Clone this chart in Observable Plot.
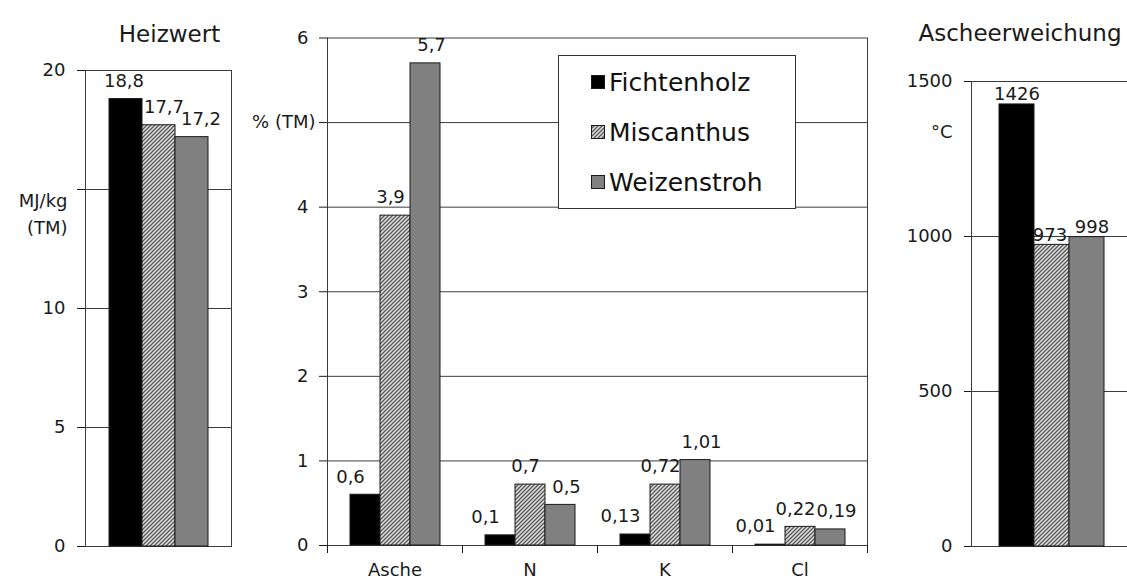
<!DOCTYPE html>
<html><head><meta charset="utf-8">
<script src="https://cdn.jsdelivr.net/npm/d3@7"></script>
<script src="https://cdn.jsdelivr.net/npm/@observablehq/plot@0.6"></script>
<style>
html,body{margin:0;padding:0;background:#fff;}
#chart{position:relative;width:1127px;height:580px;overflow:hidden;background:#fff;font-family:"DejaVu Sans",sans-serif;color:#111;}
#chart svg.p{position:absolute;left:0;top:0;max-width:none !important;}
#legend{position:absolute;left:558px;top:55px;width:238px;height:154px;box-sizing:border-box;border:1px solid #333;background:#fff;padding-top:1px;}
#legend .row{height:50px;display:flex;align-items:center;padding-left:32px;font-size:25px;color:#111;}
#legend .row svg{margin-right:4px;flex:none;}
</style></head><body>
<svg width="0" height="0" style="position:absolute">
  <defs>
    <pattern id="hatch" patternUnits="userSpaceOnUse" width="4" height="4">
      <rect width="4" height="4" fill="#e2e2e2"/>
      <path d="M-1,1 l2,-2 M0,4 l4,-4 M3,5 l2,-2" stroke="#555" stroke-width="1.3"/>
    </pattern>
  </defs>
</svg>
<div id="chart"><div id="legend"></div></div>
<script>
// ---- data ----
const series = ["Fichtenholz", "Miscanthus", "Weizenstroh"];
const fills = ["#000000", "url(#hatch)", "#808080"];

const heizwertTitle = "Heizwert";
const heizwertUnit = "MJ/kg\n(TM)";
const heizwert = [18.8, 17.7, 17.2];
const heizwertTicks = [0, 5, 10, 15, 20];

const categories = ["Asche", "N", "K", "Cl"];
const asche = [0.6, 3.9, 5.7];
const stickstoff = [0.12, 0.72, 0.48];
const stickstoffLabels = ["0,1", "0,7", "0,5"];
const kalium = [0.13, 0.72, 1.01];
const chlor = [0.01, 0.22, 0.19];
const gehaltUnit = "% (TM)";
const gehaltTicks = [0, 1, 2, 3, 4, 5, 6];

const erweichungTitle = "Ascheerweichung";
const erweichungUnit = "°C";
const ascheerweichung = [1426, 973, 998];
const erweichungTicks = [0, 500, 1000, 1500];

// ---- helpers ----
const fmt = v => String(v).replace(".", ",");
const W = 1140, H = 580;
const gridColor = "#3c3c3c";
const barStroke = "#1a1a1a";
const baseStyle = {fontFamily: '"DejaVu Sans", sans-serif', fontSize: "18px", background: "transparent", color: "#1a1a1a", overflow: "visible"};
const colorScale = {domain: series, range: fills};
const chart = document.getElementById("chart");
function place(svg) { svg.classList.add("p"); chart.insertBefore(svg, document.getElementById("legend")); }
// value labels, one text mark per series so each series can get its own small horizontal nudge
function seriesLabels(rows, nudges, opts) {
  return series.map((s, j) => Plot.text(rows.filter(r => r.series === s), {x: "series", y: "value", text: "label", fontSize: 18, dx: nudges[j], ...opts}));
}

// ---- left panel: Heizwert ----
const heizRows = series.map((s, j) => ({series: s, value: heizwert[j], label: fmt(heizwert[j])}));
place(Plot.plot({
  width: W, height: H,
  marginLeft: 85, marginRight: W - 231, marginTop: 70, marginBottom: 34,
  x: {domain: series, paddingInner: 0, paddingOuter: 0.71, axis: null},
  y: {domain: [0, 20], label: null},
  color: colorScale,
  style: baseStyle,
  marks: [
    Plot.ruleY(heizwertTicks.filter(t => t > 0 && t < 20), {stroke: gridColor}),
    Plot.frame({stroke: gridColor}),
    Plot.axisY(heizwertTicks, {label: null, tickSize: 8, tickPadding: 12, tickFormat: d => d === 15 ? "" : String(d)}),
    Plot.barY(heizRows, {x: "series", y: "value", fill: "series", stroke: barStroke, strokeWidth: 1}),
    ...seriesLabels(heizRows, [-2, 5, 9], {dy: -18}),
    Plot.text([{t: heizwertUnit, v: 15}], {y: "v", text: "t", frameAnchor: "left", textAnchor: "end", lineAnchor: "top", lineHeight: 1.5, dx: -18, dy: -2, fontSize: 18}),
    Plot.text([heizwertTitle], {text: d => d, frameAnchor: "top", dx: 11, dy: -45, fontSize: 23})
  ]
}));

// ---- middle panel background: grid, frame, axes ----
place(Plot.plot({
  width: W, height: H,
  marginLeft: 327, marginRight: W - 867, marginTop: 37.5, marginBottom: 35,
  x: {domain: [0, categories.length], label: null},
  y: {domain: [0, 6], label: null},
  style: baseStyle,
  marks: [
    Plot.ruleY(gehaltTicks, {stroke: gridColor}),
    Plot.ruleX([0, categories.length], {stroke: gridColor}),
    Plot.axisX(d3.range(categories.length + 1), {label: null, tickSize: 8, tickFormat: () => ""}),
    Plot.axisY(gehaltTicks, {label: null, tickSize: 8, tickPadding: 11, tickFormat: d => d === 5 ? "" : String(d)}),
    Plot.text([{t: gehaltUnit, v: 5}], {y: "v", text: "t", frameAnchor: "left", textAnchor: "end", dx: -12, fontSize: 18})
  ]
}));

// ---- middle panel bars ----
const gehalt = [asche, stickstoff, kalium, chlor];
const gehaltRows = categories.flatMap((c, i) => series.map((s, j) => ({
  cat: c, series: s, value: gehalt[i][j],
  label: gehalt[i] === stickstoff ? stickstoffLabels[j] : fmt(gehalt[i][j])
})));
place(Plot.plot({
  width: W, height: H,
  marginLeft: 327, marginRight: W - 867, marginTop: 37.5, marginBottom: 35,
  fx: {domain: categories, padding: 0, label: null, axis: "bottom", tickSize: 0, tickPadding: 18},
  x: {domain: series, paddingInner: 0, paddingOuter: 0.75, axis: null},
  y: {domain: [0, 6], axis: null},
  color: colorScale,
  style: baseStyle,
  marks: [
    Plot.barY(gehaltRows, {fx: "cat", x: "series", y: "value", fill: "series", stroke: barStroke, strokeWidth: 1}),
    ...seriesLabels(gehaltRows, [-15, -5, 6], {fx: "cat", dy: -18})
  ]
}));

// ---- right panel: Ascheerweichung ----
const erwRows = series.map((s, j) => ({series: s, value: ascheerweichung[j], label: fmt(ascheerweichung[j])}));
place(Plot.plot({
  width: W, height: H,
  marginLeft: 971, marginRight: W - 1132, marginTop: 81, marginBottom: 34,
  x: {domain: series, paddingInner: 0, paddingOuter: 0.75, axis: null},
  y: {domain: [0, 1500], label: null},
  color: colorScale,
  style: baseStyle,
  marks: [
    Plot.ruleY(erweichungTicks.filter(t => t > 0 && t < 1500), {stroke: gridColor}),
    Plot.frame({stroke: gridColor}),
    Plot.axisY(erweichungTicks, {label: null, tickSize: 7, tickPadding: 12, tickFormat: d => String(d)}),
    Plot.barY(erwRows, {x: "series", y: "value", fill: "series", stroke: barStroke, strokeWidth: 1}),
    ...seriesLabels(erwRows, [0, -2, 5], {dy: -10}),
    Plot.text([erweichungUnit], {text: d => d, frameAnchor: "top-left", textAnchor: "end", dx: -19, dy: 44, fontSize: 18}),
    Plot.text([erweichungTitle], {text: d => d, frameAnchor: "top", dx: -32, dy: -57, fontSize: 23})
  ]
}));

// ---- legend ----
const legend = document.getElementById("legend");
series.forEach((s, j) => {
  const row = document.createElement("div");
  row.className = "row";
  row.innerHTML = `<svg width="14" height="14"><rect x="0.5" y="0.5" width="13" height="13" fill="${fills[j]}" stroke="${barStroke}" stroke-width="1"/></svg><span>${s}</span>`;
  legend.appendChild(row);
});
</script>
</body></html>
